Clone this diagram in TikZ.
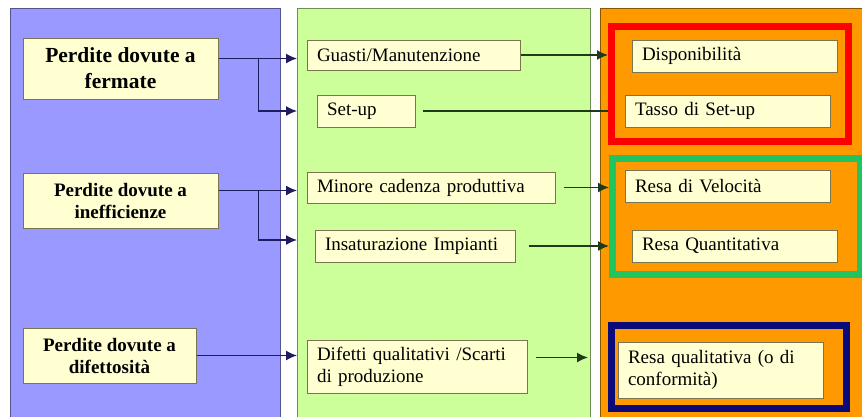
\documentclass[tikz,border=0pt]{standalone}
\usepackage{fontspec}
\setmainfont{Liberation Serif}
\newfontfamily\boxfont{Liberation Serif}
\usetikzlibrary{positioning,calc,arrows.meta}
\definecolor{panel_blue}{HTML}{9999FF}
\definecolor{panel_green}{HTML}{CCFF99}
\definecolor{panel_orange}{HTML}{FF9900}
\definecolor{box_fill}{HTML}{FFFFD2}
\definecolor{box_edge}{HTML}{7A7450}
\definecolor{frame_red}{HTML}{FF0000}
\definecolor{frame_green}{HTML}{22C462}
\definecolor{frame_navy}{HTML}{0A0A78}
\definecolor{link_blue}{HTML}{1C1C5E}
\definecolor{link_green}{HTML}{1E3A1A}
\tikzset{
  panel/.style={draw=#1!55!black, line width=0.8pt, outer sep=0pt},
  cause/.style={draw=box_edge, fill=box_fill, line width=1pt, align=center,
                inner sep=0pt, font=\boxfont\fontsize{19}{22}\selectfont\bfseries},
  item/.style={draw=box_edge, fill=box_fill, line width=1pt, align=left,
               inner xsep=10pt, inner ysep=0pt, font=\boxfont\fontsize{19}{22}\selectfont},
  group/.style={draw=#1, line width=7pt},
  link/.style={-{Latex[length=11pt,width=10pt]}, draw=link_blue, line width=1.4pt},
  plainlink/.style={draw=link_green, line width=1.4pt},
  outlink/.style={link, draw=link_green},
}
\begin{document}
\begin{tikzpicture}[x=1pt, y=-1pt]
  \useasboundingbox (0,0) rectangle (862,416);
  \clip (0,0) rectangle (862,416);

  % --- the three columns ---------------------------------------------------
  \node[panel=panel_blue, fill=panel_blue, minimum width=270pt, minimum height=422pt] (losses) at (145,219) {};
  \node[panel=panel_green, fill=panel_green, minimum width=293pt, minimum height=422pt] (kinds) at (443.5,219) {};
  \node[panel=panel_orange, fill=panel_orange, minimum width=275pt, minimum height=422pt] (rates) at (737.5,219) {};

  % --- coloured groups -----------------------------------------------------
  \node[group=frame_red, minimum width=237pt, minimum height=115pt] (availgroup) at (730,84) {};
  \node[group=frame_green, minimum width=248pt, minimum height=116pt] (speedgroup) at (736.5,216.5) {};
  \node[group=frame_navy, minimum width=235pt, minimum height=83pt] (qualgroup) at (729,367) {};

  % --- losses --------------------------------------------------------------
  \node[cause, minimum width=195pt, minimum height=61pt, font=\boxfont\fontsize{21.5}{26}\selectfont\bfseries]
    (ferm) at (120.5,68.5) {Perdite dovute a\\fermate};
  \node[cause, minimum width=195pt, minimum height=55pt] (ineff) at (120.5,200.5) {Perdite dovute a\\inefficienze};
  \node[cause, minimum width=173pt, minimum height=55pt] (difet) at (109.5,355.5) {Perdite dovute a\\difettosità};

  % --- kinds of loss -------------------------------------------------------
  \node[item, text width=193pt, minimum height=30pt] (guasti) at (413.5,55) {Guasti/Manutenzione};
  \node[item, text width=78pt, minimum height=32pt] (setup) at (366,111) {Set-up};
  \node[item, text width=228pt, minimum height=31pt] (minore) at (431,187.5) {Minore cadenza produttiva};
  \node[item, text width=180pt, minimum height=32pt] (insat) at (415,246) {Insaturazione Impianti};
  \node[item, text width=200pt, minimum height=53pt] (difetti) at (417,366.5) {Difetti qualitativi /Scarti\\di produzione};

  % --- indices -------------------------------------------------------------
  \node[item, text width=185pt, minimum height=32pt] (disp) at (734.5,56) {Disponibilità};
  \node[item, text width=185pt, minimum height=32pt] (tasso) at (727.5,111) {Tasso di Set-up};
  \node[item, text width=185pt, minimum height=32pt] (resavel) at (727.5,186) {Resa di Velocità};
  \node[item, text width=185pt, minimum height=32pt] (resaquant) at (734.5,246) {Resa Quantitativa};
  \node[item, text width=185pt, minimum height=56pt] (resaqual) at (720.5,370) {Resa qualitativa (o di\\conformità)};

  % --- losses to kinds -----------------------------------------------------
  \draw[link] ([yshift=10pt]ferm.east) -- ([yshift=10pt]ferm.east -| kinds.west);
  \draw[link] ($([yshift=10pt]ferm.east)+(40,0)$) |- (setup -| kinds.west);
  \draw[link] ([yshift=10pt]ineff.east) -- ([yshift=10pt]ineff.east -| kinds.west);
  \draw[link] ($([yshift=10pt]ineff.east)+(40,0)$) |- ([yshift=6pt]insat.west -| kinds.west);
  \draw[link] (difet.east) -- (difet -| kinds.west);

  % --- kinds to indices ----------------------------------------------------
  \coordinate (qualin) at (588,357.5);
  \draw[outlink] (guasti.east) -- (guasti -| availgroup.west);
  \draw[plainlink, shorten <=7pt] (setup.east) -- (setup -| availgroup.west);
  \draw[outlink, shorten <=8pt] (minore.east) -- (minore -| speedgroup.west);
  \draw[outlink, shorten <=13pt] (insat.east) -- (insat -| speedgroup.west);
  \draw[outlink, shorten <=8pt] ([yshift=9pt]difetti.east) -- (qualin);

\end{tikzpicture}
\end{document}
